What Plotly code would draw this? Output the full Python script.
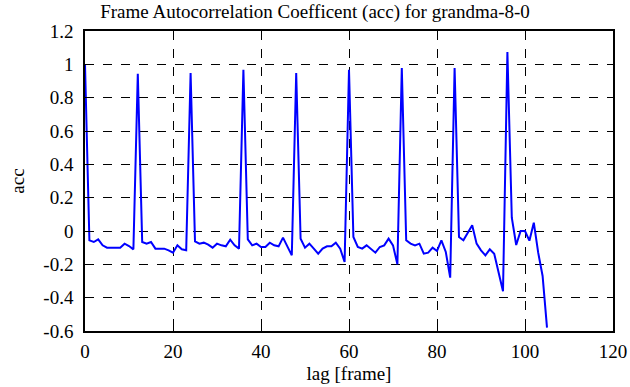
import plotly.graph_objects as go

lags = list(range(0, 106))
acc = [
    1.00, -0.056, -0.066, -0.05, -0.086, -0.10, -0.10, -0.10, -0.10, -0.076,
    -0.09, -0.11, 0.944, -0.066, -0.076, -0.066, -0.106, -0.106, -0.106, -0.116,
    -0.13, -0.086, -0.11, -0.116, 0.948, -0.062, -0.076, -0.07, -0.082, -0.10,
    -0.076, -0.086, -0.092, -0.052, -0.086, -0.106, 0.968, -0.05, -0.086, -0.076,
    -0.096, -0.096, -0.07, -0.086, -0.092, -0.04, -0.096, -0.146, 0.948, -0.046,
    -0.10, -0.076, -0.106, -0.136, -0.106, -0.092, -0.092, -0.07, -0.106, -0.186,
    0.968, -0.036, -0.096, -0.106, -0.086, -0.11, -0.13, -0.096, -0.086, -0.046,
    -0.086, -0.20, 0.978, -0.056, -0.076, -0.086, -0.076, -0.136, -0.13, -0.10,
    -0.12, -0.056, -0.126, -0.28, 0.978, -0.036, -0.056, -0.01, 0.034, -0.076,
    -0.116, -0.146, -0.11, -0.136, -0.246, -0.362, 1.074, 0.08, -0.084, 0.0,
    0.0, -0.058, 0.05, -0.13, -0.27, -0.58,
]

title_text = "Frame Autocorrelation Coefficent (acc) for grandma-8-0"
x_label = "lag [frame]"
y_label = "acc"
x_ticks = [0, 20, 40, 60, 80, 100, 120]
y_ticks = [-0.6, -0.4, -0.2, 0, 0.2, 0.4, 0.6, 0.8, 1, 1.2]
y_ticktext = ["-0.6", "-0.4", "-0.2", "0", "0.2", "0.4", "0.6", "0.8", "1", "1.2"]

FONT = "Liberation Serif"

fig = go.Figure()
fig.add_trace(go.Scatter(
    x=lags, y=acc, mode="lines",
    line=dict(color="rgb(0,0,255)", width=2),
    showlegend=False,
))

axis_common = dict(
    showline=True, linecolor="black", linewidth=1.5, mirror="ticks",
    ticks="inside", ticklen=5, tickcolor="black", tickwidth=1,
    showgrid=True, gridcolor="black", gridwidth=1, griddash="dash",
    zeroline=False, automargin=False,
    tickfont=dict(family=FONT, size=19, color="black"),
)

fig.update_layout(
    width=630, height=387,
    margin=dict(l=85, r=17, t=31, b=56),
    paper_bgcolor="white", plot_bgcolor="white",
    font=dict(family=FONT, size=19, color="black"),
    title=dict(text=title_text, x=0.5, xanchor="center", y=0.970, yanchor="middle",
               font=dict(family=FONT, size=19, color="black")),
    xaxis=dict(range=[0, 120], tickvals=x_ticks, ticktext=[str(v) for v in x_ticks],
               ticklabelstandoff=2,
               title=dict(text=x_label, standoff=6,
                          font=dict(family=FONT, size=19)),
               **axis_common),
    yaxis=dict(range=[-0.6, 1.2], tickvals=y_ticks, ticktext=y_ticktext,
               ticklabelstandoff=6,
               title=dict(text=y_label, standoff=14,
                          font=dict(family=FONT, size=19)),
               **axis_common),
)

fig.write_html(
    "out.html",
    config={"displayModeBar": False},
    post_script="document.body.style.margin='0';document.body.style.padding='0';",
)
